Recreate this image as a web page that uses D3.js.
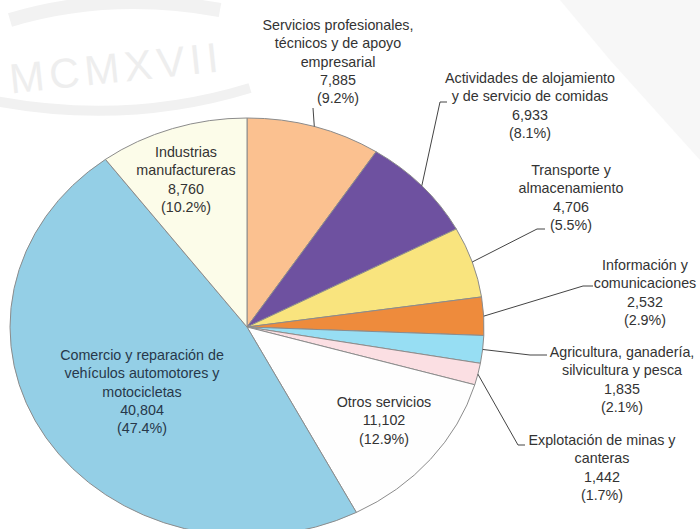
<!DOCTYPE html>
<html>
<head>
<meta charset="utf-8">
<script src="https://cdn.jsdelivr.net/npm/d3@7"></script>
<style>
  html, body { margin: 0; padding: 0; background: #fff; }
  svg { display: block; }
  text { font-family: "Liberation Sans", Arial, sans-serif; font-size: 14.3px; fill: #333; }
</style>
</head>
<body>
<svg id="chart" width="700" height="529"></svg>
<script>
// ---- data ----
const categories = [
  ["Servicios profesionales,", "técnicos y de apoyo", "empresarial"],
  ["Actividades de alojamiento", "y de servicio de comidas"],
  ["Transporte y", "almacenamiento"],
  ["Información y", "comunicaciones"],
  ["Agricultura, ganadería,", "silvicultura y pesca"],
  ["Explotación de minas y", "canteras"],
  ["Otros servicios"],
  ["Comercio y reparación de", "vehículos automotores y", "motocicletas"],
  ["Industrias", "manufactureras"]
];
const values = [7885, 6933, 4706, 2532, 1835, 1442, 11102, 40804, 8760];
const colors = ["#fbc190", "#6e51a0", "#f9e47e", "#ee8b3c", "#97def3", "#fbdfe3", "#fefefe", "#94cfe6", "#fcfce9"];

// ---- layout (positions only) ----
const cx = 247, cy = 327, rx = 237, ry = 209;
const labelLayout = [
  { x: 338, y: 25,  inside: false, elbow: [313, 108], end: null },
  { x: 530, y: 78,  inside: false, elbow: [440, 102], end: 447 },
  { x: 571, y: 170, inside: false, elbow: [537, 229], end: 545 },
  { x: 645, y: 265, inside: false, elbow: [583, 286], end: 593 },
  { x: 622, y: 352, inside: false, elbow: [530, 355], end: 547 },
  { x: 602, y: 440, inside: false, elbow: [518, 445], end: 525 },
  { x: 384, y: 402, inside: true },
  { x: 142, y: 355, inside: true },
  { x: 186, y: 152, inside: true }
];
const lineH = 18.3;

const svg = d3.select("#chart");

// faint watermark
const wm = svg.append("g");
wm.append("path")
  .attr("d", "M -20 98 Q 120 128 250 88")
  .attr("fill", "none").attr("stroke", "#f1f1f1").attr("stroke-width", 10);
wm.append("text")
  .attr("x", 8).attr("y", 84)
  .attr("transform", "rotate(-6 100 60)")
  .style("font-size", "42px").style("fill", "#eeeeee").style("letter-spacing", "5px")
  .text("MCMXVII");
wm.append("path")
  .attr("d", "M 10 20 Q 110 -10 220 10")
  .attr("fill", "none").attr("stroke", "#f2f2f2").attr("stroke-width", 14);
wm.append("path")
  .attr("d", "M 560 0 L 700 0 L 700 160 L 610 60 Z")
  .attr("fill", "#f7f7f7");

// ---- pie ----
const total = d3.sum(values);
const pie = d3.pie().sort(null).value(d => d)(values);
const arc = d3.arc().innerRadius(0).outerRadius(rx);

const pieG = svg.append("g")
  .attr("transform", `translate(${cx},${cy}) scale(1,${ry / rx})`);
pieG.selectAll("path")
  .data(pie)
  .join("path")
  .attr("d", arc)
  .attr("fill", (d, i) => colors[i])
  .attr("stroke", "#8c8c8c")
  .attr("stroke-width", 1)
  .attr("vector-effect", "non-scaling-stroke");

// ---- labels & leaders ----
const fmt = d3.format(",");
const edgePoint = d => {
  const a = (d.startAngle + d.endAngle) / 2;
  return [cx + rx * Math.sin(a), cy - ry * Math.cos(a)];
};

pie.forEach((d, i) => {
  const L = labelLayout[i];
  if (!L.inside) {
    const p = edgePoint(d);
    const pts = [p, L.elbow];
    if (L.end !== null) pts.push([L.end, L.elbow[1]]);
    svg.append("path")
      .attr("d", d3.line()(pts))
      .attr("fill", "none")
      .attr("stroke", "#444")
      .attr("stroke-width", 1);
  }
  const lines = categories[i].concat([
    fmt(values[i]),
    "(" + (values[i] / total * 100).toFixed(1) + "%)"
  ]);
  const t = svg.append("text").attr("text-anchor", "middle");
  if (i === 7) t.style("fill", "#27384a");
  lines.forEach((s, k) => {
    t.append("tspan")
      .attr("x", L.x)
      .attr("y", L.y + k * lineH + 5)
      .text(s);
  });
});
</script>
</body>
</html>
